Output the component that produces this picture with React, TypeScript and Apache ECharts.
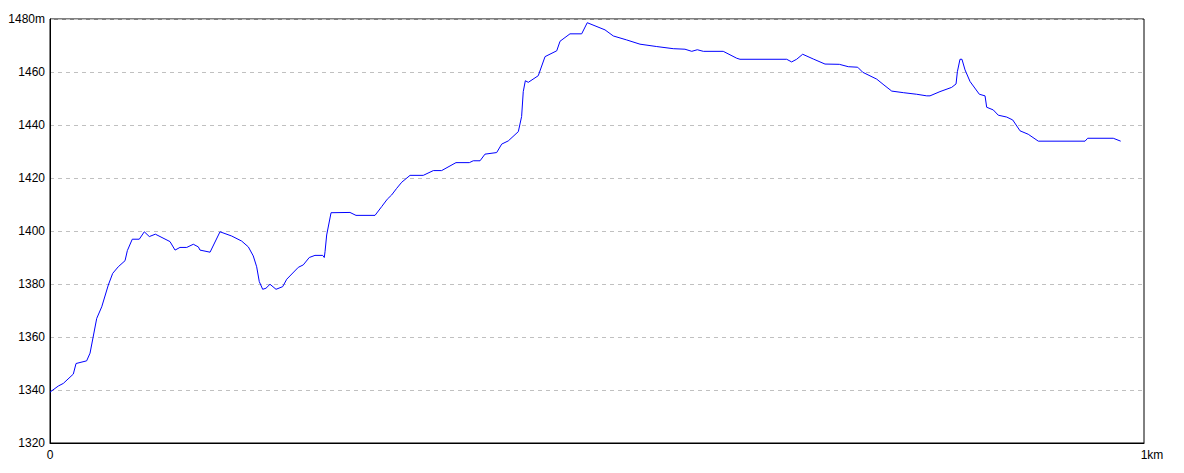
import React, { useEffect, useRef } from "react";
import * as echarts from "echarts";

// distance along the route (km)
const distanceKm = [
  0.0, 0.0076, 0.0122, 0.0213, 0.0238, 0.0335, 0.0366, 0.0427, 0.0473, 0.0533,
  0.0573, 0.0624, 0.0686, 0.0707, 0.0752, 0.0816, 0.0862, 0.0908, 0.0963, 0.1097,
  0.1143, 0.1188, 0.125, 0.131, 0.1356, 0.1371, 0.1463, 0.1554, 0.1661, 0.1752,
  0.1813, 0.1858, 0.1889, 0.1913, 0.1944, 0.1974, 0.2011, 0.2066, 0.2127, 0.2164,
  0.227, 0.2315, 0.237, 0.2422, 0.2493, 0.2507, 0.2514, 0.2529, 0.2569, 0.2742,
  0.2797, 0.2971, 0.3032, 0.3083, 0.3123, 0.3169, 0.3215, 0.3291, 0.3412, 0.3504,
  0.358, 0.3711, 0.3833, 0.3869, 0.3931, 0.3976, 0.4083, 0.4129, 0.4189, 0.4281,
  0.4311, 0.4326, 0.4345, 0.4372, 0.4463, 0.4525, 0.4632, 0.4662, 0.4753, 0.486,
  0.4911, 0.5073, 0.5149, 0.5271, 0.5393, 0.5546, 0.5697, 0.5804, 0.5866, 0.5917,
  0.5972, 0.6154, 0.6277, 0.6307, 0.6734, 0.6779, 0.6825, 0.688, 0.6977, 0.7084,
  0.7215, 0.7297, 0.7383, 0.7429, 0.7557, 0.7623, 0.7694, 0.78, 0.7922, 0.8014,
  0.8044, 0.8135, 0.8242, 0.8282, 0.8294, 0.8318, 0.8336, 0.8364, 0.841, 0.8495,
  0.8547, 0.8562, 0.8622, 0.8668, 0.8745, 0.88, 0.8867, 0.8942, 0.9034, 0.9461,
  0.9485, 0.9719, 0.9787,
];

// elevation (m)
const elevationM = [
  1339.2, 1341.5, 1342.5, 1346.0, 1350.0, 1351.0, 1353.9, 1367.0, 1371.4, 1379.6,
  1384.0, 1386.5, 1388.8, 1392.6, 1396.9, 1396.9, 1399.7, 1397.9, 1398.8, 1396.0,
  1392.8, 1393.8, 1393.8, 1395.0, 1394.0, 1392.8, 1392.0, 1399.7, 1398.1, 1396.2,
  1394.0, 1390.6, 1386.5, 1380.9, 1378.0, 1378.4, 1379.9, 1378.0, 1379.0, 1381.8,
  1386.3, 1387.2, 1390.0, 1390.8, 1390.8, 1390.0, 1392.2, 1398.5, 1406.9, 1407.0,
  1405.9, 1405.9, 1409.2, 1412.0, 1413.6, 1416.1, 1418.4, 1421.0, 1421.0, 1422.8,
  1422.8, 1425.8, 1425.8, 1426.5, 1426.5, 1429.0, 1429.6, 1432.8, 1434.0, 1437.5,
  1443.2, 1452.6, 1456.7, 1456.1, 1458.6, 1465.8, 1468.0, 1471.6, 1474.4, 1474.4,
  1478.6, 1475.9, 1473.6, 1472.1, 1470.5, 1469.6, 1468.8, 1468.6, 1467.8, 1468.4,
  1467.8, 1467.8, 1465.2, 1464.8, 1464.8, 1463.8, 1464.8, 1466.7, 1464.9, 1463.0,
  1462.9, 1462.0, 1461.8, 1459.9, 1457.3, 1455.1, 1452.8, 1452.2, 1451.6, 1451.0,
  1451.0, 1452.6, 1454.2, 1455.5, 1460.1, 1464.8, 1464.8, 1460.8, 1456.4, 1451.6,
  1451.0, 1446.7, 1445.7, 1443.7, 1443.0, 1441.9, 1437.8, 1436.5, 1433.9, 1433.9,
  1435.0, 1435.0, 1433.9,
];

const yTicks = [1320, 1340, 1360, 1380, 1400, 1420, 1440, 1460, 1480];

export default function App() {
  const ref = useRef<HTMLDivElement>(null);
  useEffect(() => {
    if (!ref.current) return;
    const chart = echarts.init(ref.current, undefined, { renderer: "svg" });
    const n = Math.min(distanceKm.length, elevationM.length);
    const data: [number, number][] = [];
    for (let i = 0; i < n; i++) data.push([distanceKm[i], elevationM[i]]);
    const font = "'Liberation Sans', Arial, sans-serif";
    chart.setOption({
      animation: false,
      backgroundColor: "#ffffff",
      grid: {
        left: 50,
        right: 40,
        top: 19,
        bottom: 30,
        show: true,
        borderColor: "#000000",
        borderWidth: 1,
        containLabel: false,
      },
      xAxis: {
        type: "value",
        min: 0,
        max: 1,
        interval: 1,
        axisLine: { show: true, lineStyle: { color: "#000", width: 1 } },
        axisTick: { show: false },
        splitLine: { show: false },
        axisLabel: {
          color: "#000",
          fontSize: 12,
          fontFamily: font,
          margin: 6,
          formatter: (v: number) => (v === 1 ? "{k|1km}" : String(v)),
          rich: {
            k: { color: "#000", fontSize: 12, fontFamily: font, padding: [0, 0, 0, 16] },
          },
        },
      },
      yAxis: {
        type: "value",
        min: yTicks[0],
        max: yTicks[yTicks.length - 1],
        interval: 20,
        axisLine: { show: true, lineStyle: { color: "#000", width: 1 } },
        axisTick: { show: false },
        splitLine: {
          show: true,
          lineStyle: { color: "#c0c0c0", type: [4, 4], width: 1 },
        },
        axisLabel: {
          color: "#000",
          fontSize: 12,
          fontFamily: font,
          margin: 5,
          formatter: (v: number) => (v === 1480 ? "1480m" : String(v)),
        },
      },
      series: [
        {
          type: "line",
          data,
          showSymbol: false,
          symbol: "none",
          lineStyle: { color: "#0000ff", width: 1 },
          itemStyle: { color: "#0000ff" },
        },
      ],
    });
    return () => chart.dispose();
  }, []);
  return (
    <div
      ref={ref}
      style={{ position: "fixed", left: 0, top: 0, width: 1184, height: 473, background: "#fff" }}
    />
  );
}
